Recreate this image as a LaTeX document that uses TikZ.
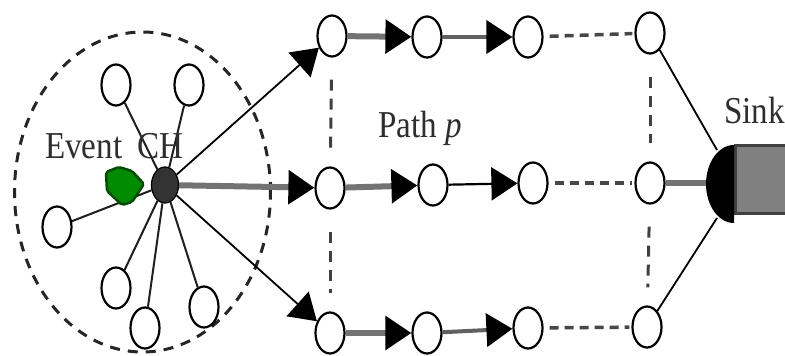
\documentclass[tikz,border=0pt]{standalone}
\usepackage{fontspec}
\usepackage{graphicx}
\setmainfont{Liberation Serif}
\usetikzlibrary{arrows.meta,shapes.geometric}

\newcommand\lbl[1]{\scalebox{0.87}[1]{\fontsize{38}{40}\selectfont #1}}

\tikzset{
  sensor/.style={ellipse, draw=black, line width=2.2pt, fill=white,
    minimum width=29pt, minimum height=41pt, inner sep=0pt},
  head/.style={ellipse, draw=black, line width=1.2pt, fill=black!80,
    minimum width=27pt, minimum height=36pt, inner sep=0pt},
  member/.style={draw=black!88, line width=2pt},
  hop/.style={-{Triangle[length=26pt,width=33pt,color=black]}},
  thinhop/.style={hop, draw=black, line width=1.8pt},
  thickhop/.style={hop, draw=black!55, line width=6pt},
  midhop/.style={hop, draw=black!62, line width=4pt},
  gaphop/.style={draw=black!72, line width=3.5pt, dash pattern=on 9pt off 6pt,
    shorten <=6pt, shorten >=2pt},
  rung/.style={draw=black!75, line width=3pt, dash pattern=on 11pt off 8pt,
    shorten <=22pt, shorten >=18pt},
  label/.style={anchor=base west, inner sep=0pt, text=black!82},
}

\begin{document}
\begin{tikzpicture}[x=1pt,y=-1pt]
\useasboundingbox (0,0) rectangle (785,356);
\clip (0,0) rectangle (785,356);
\fill[white] (0,0) rectangle (785,356);

% cluster boundary
\draw[black!85, line width=3pt, dash pattern=on 10pt off 8pt]
  (142.5,192) ellipse [x radius=128pt, y radius=160pt];

% cluster head and its members
\node[head] (ch) at (165,185) {};
\node[sensor] (m1) at (116,85) {};
\node[sensor] (m2) at (189,85) {};
\node[sensor] (m3) at (57,227) {};
\node[sensor] (m4) at (116,288) {};
\node[sensor] (m5) at (145,328) {};
\node[sensor] (m6) at (204,307) {};

% relay nodes, three routes towards the sink
\node[sensor] (t1) at (332,36) {};
\node[sensor] (t2) at (427,37) {};
\node[sensor] (t3) at (528,37) {};
\node[sensor] (t4) at (650,33) {};
\node[sensor] (c1) at (330,188) {};
\node[sensor] (c2) at (433,185) {};
\node[sensor] (c3) at (533,183) {};
\node[sensor] (c4) at (650,183) {};
\node[sensor] (b1) at (330,333) {};
\node[sensor] (b2) at (427,333) {};
\node[sensor] (b3) at (528,328) {};
\node[sensor] (b4) at (647,327) {};

% sink
\draw[fill=black!50, draw=black!75, line width=3pt] (735,145) rectangle (800,213);
\fill[black] (734,145) arc[start angle=90, end angle=270, x radius=28pt, y radius=39pt] -- cycle;
\coordinate (sinktop) at (717,150);
\coordinate (sinkbot) at (717,218);
\coordinate (sinkmid) at (706,183);

% intra-cluster links
\foreach \m in {m1,m2,m3,m4,m5,m6} \draw[member] (ch) -- (\m);

% forwarding hops
\draw[thinhop] (ch) -- (t1);
\draw[thickhop] (ch) -- (c1);
\draw[thinhop] (ch) -- (b1);
\draw[thickhop] (t1) -- (t2);
\draw[midhop] (t2) -- (t3);
\draw[thickhop] (c1) -- (c2);
\draw[hop, line width=2.2pt] (c2) -- (c3);
\draw[thickhop] (b1) -- (b2);
\draw[midhop] (b2) -- (b3);

% omitted hops
\draw[gaphop] (t3) -- (t4);
\draw[gaphop] (c3) -- (c4);
\draw[gaphop] (b3) -- (b4);
\draw[rung] (t1) -- (c1);
\draw[rung] (c1) -- (b1);
\draw[rung] (t4) -- (c4);
\draw[rung] (c4) -- (b4);

% last hops into the sink
\draw[black, line width=1.8pt] (t4) -- (sinktop);
\draw[black, line width=1.8pt] (b4) -- (sinkbot);
\draw[black!55, line width=6pt] (c4) -- (sinkmid);

% event source
\filldraw[fill=green!55!black, draw=green!30!black, line width=2.5pt, rounded corners=2pt]
  (106,172) -- (119,167) -- (132,171) -- (144,184) -- (132,202) -- (122,205) -- (107,191) -- cycle;

% labels
\node[label] (ev) at (45,158) {\lbl{Event}};
\node[label] (chl) at (137,158) {\lbl{CH}};
\node[label] (pl) at (378,137) {\lbl{Path \textit{p}}};
\node[label] (sk) at (724,123) {\lbl{Sink}};
\end{tikzpicture}
\end{document}
